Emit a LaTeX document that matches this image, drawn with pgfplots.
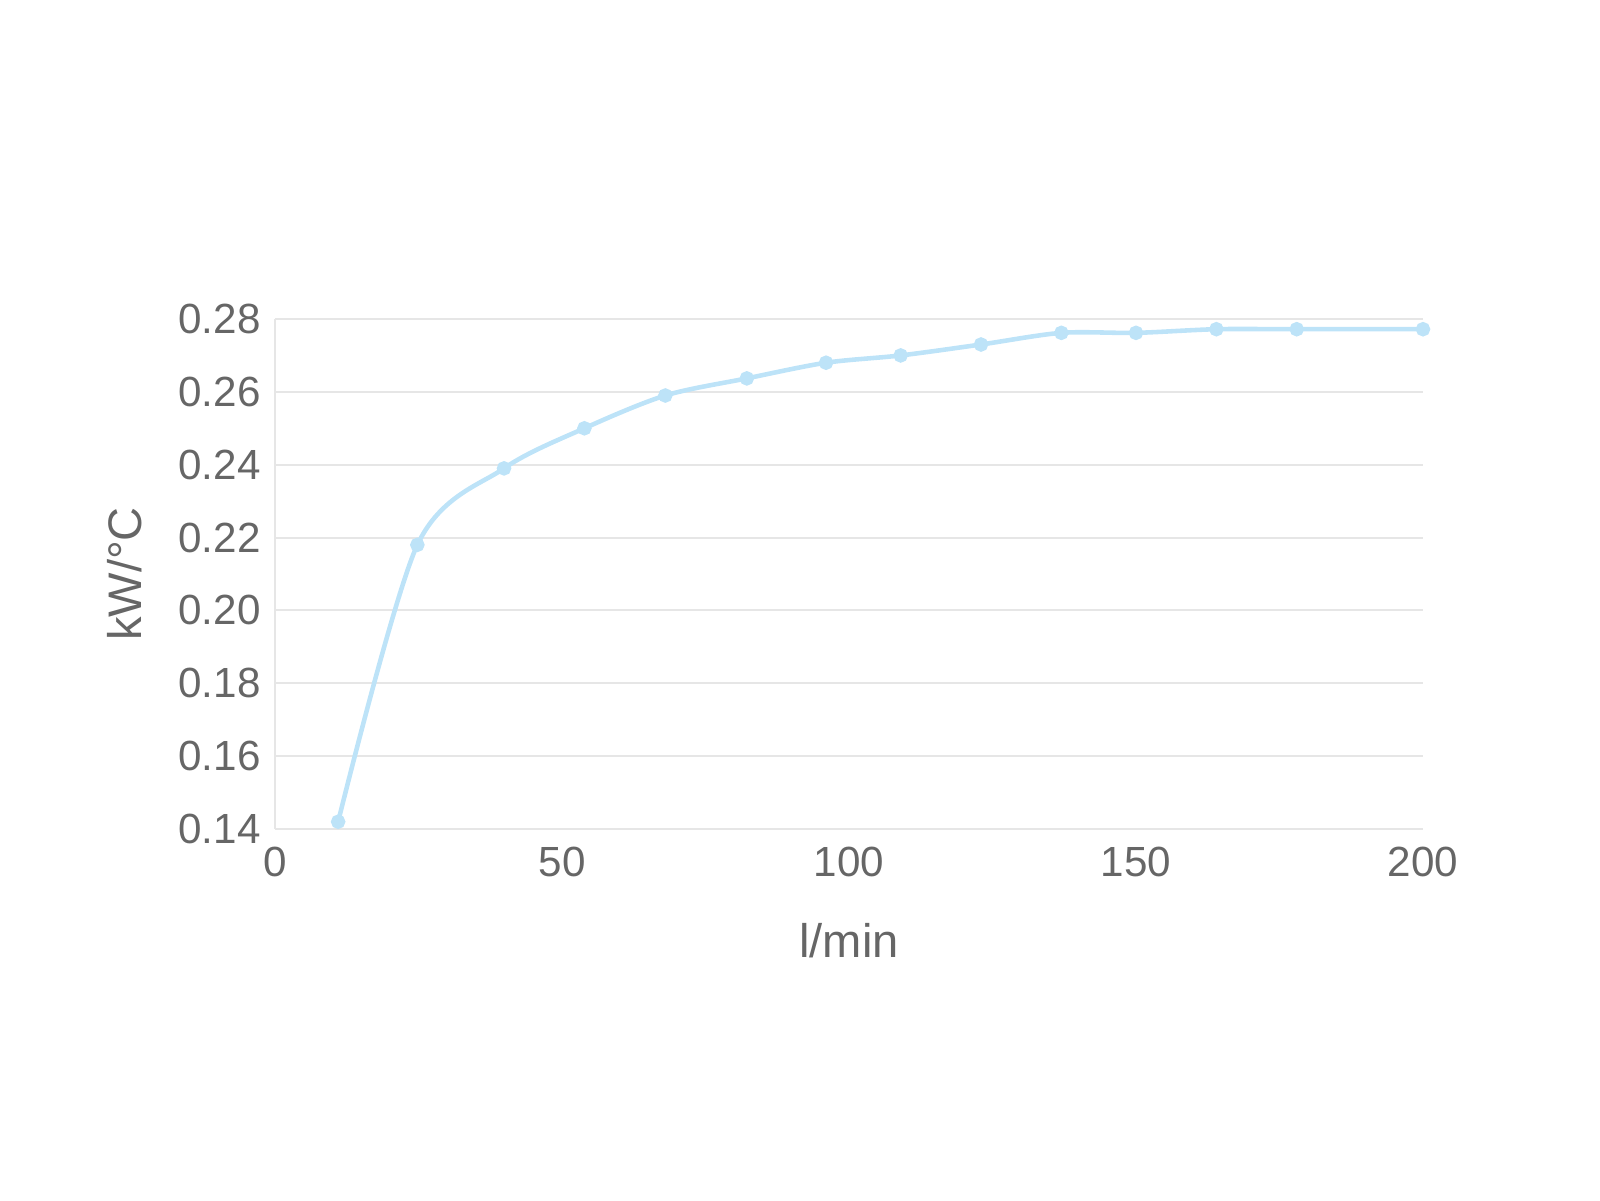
\documentclass[border=0pt]{standalone}
\usepackage{pgfplots}
\pgfplotsset{compat=1.18}
\usepackage{fontspec}
\setmainfont{Liberation Sans}
\definecolor{txt}{HTML}{666666}
\definecolor{grd}{HTML}{E6E6E6}
\definecolor{ln}{HTML}{BDE3F8}
\begin{document}
\begin{tikzpicture}
\useasboundingbox (0,0) rectangle (16cm,12cm);
\begin{axis}[
  at={(2.75cm,3.71cm)}, anchor=south west,
  width=11.48cm, height=5.1cm, scale only axis,
  xmin=0, xmax=200, ymin=0.14, ymax=0.28,
  xtick={0,50,100,150,200},
  ytick={0.14,0.16,0.18,0.20,0.22,0.24,0.26,0.28},
  yticklabel style={/pgf/number format/fixed,/pgf/number format/fixed zerofill,/pgf/number format/precision=2, xshift=-0.02cm},
  /pgf/number format/assume math mode=true,
  axis x line*=bottom, axis y line*=left,
  x axis line style={draw=none},
  y axis line style={grd, line width=0.6pt, -},
  ymajorgrids, grid style={grd, line width=0.6pt},
  major tick length=0.13cm,
  ytick style={grd, line width=0.6pt}, xtick style={draw=none},
  tick label style={font=\fontsize{12}{14}\selectfont, text=txt},
  xticklabel style={yshift=-0.06cm},
  xlabel={l/min}, ylabel={kW/°C},
  label style={font=\fontsize{13.4}{15}\selectfont, text=txt},
  xlabel style={at={(axis description cs:0.5,0)}, anchor=center, yshift=-1.12cm},
  ylabel style={at={(axis description cs:0,0.5)}, anchor=center, yshift=1.5cm},
  clip=false,
]
\addplot[ln, line width=1.3pt, smooth, tension=0.5, mark=*, mark size=1.4pt, mark options={fill=ln, draw=ln}]
coordinates {
(11,0.142) (24.8,0.218) (39.9,0.239) (53.9,0.250) (68,0.259) (82.2,0.2637)
(96,0.268) (109,0.270) (123,0.273) (137,0.2762) (150,0.2762) (164,0.2772)
(178,0.2772) (200,0.2772)
};
\end{axis}
\end{tikzpicture}
\end{document}
